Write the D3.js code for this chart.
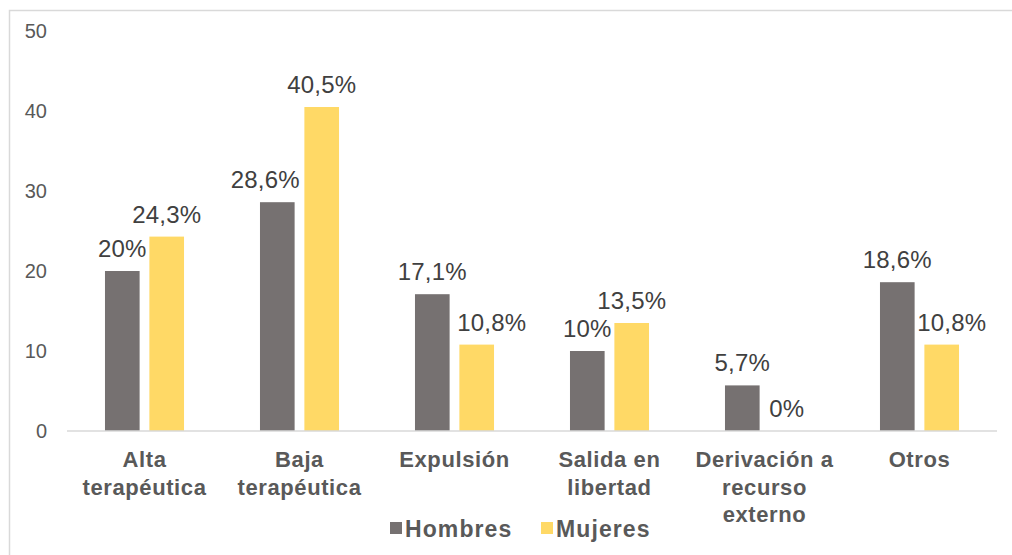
<!DOCTYPE html>
<html>
<head>
<meta charset="utf-8">
<script src="https://cdn.jsdelivr.net/npm/d3@7"></script>
<style>
    body { margin: 0; background: #fff; }
    svg { display: block; font-family: "Liberation Sans", Arial, sans-serif; }
</style>
</head>
<body>
<div id="chart"></div>
<script>
// data
const categories = ["Alta\nterapéutica", "Baja\nterapéutica", "Expulsión", "Salida en\nlibertad", "Derivación a\nrecurso\nexterno", "Otros"];
const series = ["Hombres", "Mujeres"];
const hombres = [20, 28.6, 17.1, 10, 5.7, 18.6];
const mujeres = [24.3, 40.5, 10.8, 13.5, 0, 10.8];
const yTicks = [0, 10, 20, 30, 40, 50];

const colors = {Hombres: "#767171", Mujeres: "#FFD966"};

const width = 1012, height = 555;
const margin = {top: 31, right: 15, bottom: 124, left: 67};

const svg = d3.select("#chart")
    .append("svg")
    .attr("width", width)
    .attr("height", height);

// outer frame (right and bottom edges fall off the picture)
svg.append("rect")
    .attr("x", 9.5).attr("y", 10.5)
    .attr("width", width + 20).attr("height", height + 20)
    .attr("fill", "none")
    .attr("stroke", "#d9d9d9")
    .attr("stroke-width", 1.5);

let x0 = d3.scaleBand()
    .domain(categories)
    .range([margin.left, width - margin.right]);

let bw = x0.bandwidth();
let x1 = d3.scaleBand()
    .domain(series)
    .range([bw * 0.245, bw * 0.755])
    .paddingInner(0.22);

let y = d3.scaleLinear()
    .domain([0, 50])
    .range([height - margin.bottom, margin.top]);

// y tick labels only, no axis line
let yAxis = svg.append("g")
    .attr("transform", "translate(" + (margin.left - 20) + ",0)")
    .call(d3.axisLeft(y).tickValues(yTicks).tickSize(0).tickPadding(0));
yAxis.select(".domain").remove();
yAxis.selectAll("text")
    .attr("font-size", 20)
    .attr("font-family", "Liberation Sans, Arial, sans-serif")
    .attr("fill", "#595959");

// bars
let rows = categories.map((c, i) => ({cat: c, i: i, Hombres: hombres[i], Mujeres: mujeres[i]}));

// Excel moved a few labels sideways to avoid overlaps
const nudge = {"Hombres-1": -12, "Mujeres-2": 15, "Mujeres-5": 10};
const fmt = v => String(v).replace(".", ",") + "%";

let groups = svg.append("g")
    .selectAll("g")
    .data(rows)
    .enter()
    .append("g")
    .attr("transform", d => "translate(" + x0(d.cat) + ",0)");

groups.selectAll("rect")
    .data(d => series.map(s => ({s: s, v: d[s], i: d.i})))
    .enter()
    .append("rect")
    .attr("x", d => x1(d.s))
    .attr("y", d => y(d.v))
    .attr("width", x1.bandwidth())
    .attr("height", d => y(0) - y(d.v))
    .attr("fill", d => colors[d.s]);

groups.selectAll("text.val")
    .data(d => series.map(s => ({s: s, v: d[s], i: d.i})))
    .enter()
    .append("text")
    .attr("class", "val")
    .attr("x", d => x1(d.s) + x1.bandwidth() / 2 + (nudge[d.s + "-" + d.i] || 0))
    .attr("y", d => y(d.v) - 14)
    .attr("text-anchor", "middle")
    .attr("font-size", 24)
    .attr("letter-spacing", 0.2)
    .attr("fill", "#404040")
    .text(d => fmt(d.v));

// x axis line
svg.append("line")
    .attr("x1", margin.left).attr("x2", width - margin.right)
    .attr("y1", y(0)).attr("y2", y(0))
    .attr("stroke", "#d9d9d9")
    .attr("stroke-width", 1.5);

// category labels
let catLabels = svg.append("g")
    .selectAll("text")
    .data(categories)
    .enter()
    .append("text")
    .attr("x", d => x0(d) + bw / 2)
    .attr("y", y(0) + 36)
    .attr("text-anchor", "middle")
    .attr("font-size", 22)
    .attr("font-weight", "bold")
    .attr("letter-spacing", 0.6)
    .attr("fill", "#595959");

catLabels.each(function (d) {
    let t = d3.select(this);
    d.split("\n").forEach((line, k) => {
        t.append("tspan")
            .attr("x", x0(d) + bw / 2)
            .attr("dy", k === 0 ? 0 : 27.5)
            .text(line);
    });
});

// legend
let legend = svg.append("g")
    .selectAll("g")
    .data(series)
    .enter()
    .append("g")
    .attr("transform", (d, i) => "translate(" + [390, 541][i] + ",522)");

legend.append("rect")
    .attr("width", 12)
    .attr("height", 12)
    .attr("fill", d => colors[d]);

legend.append("text")
    .attr("x", 15)
    .attr("y", 14.5)
    .attr("font-size", 23)
    .attr("font-weight", "bold")
    .attr("letter-spacing", 1.1)
    .attr("fill", "#595959")
    .text(d => d);
</script>
</body>
</html>
